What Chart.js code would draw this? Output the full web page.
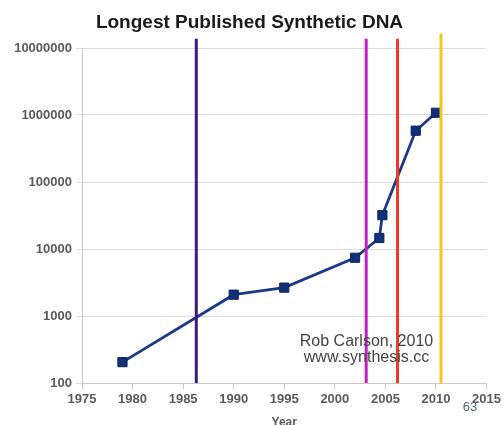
<!DOCTYPE html>
<html>
<head>
<meta charset="utf-8">
<script src="https://cdn.jsdelivr.net/npm/chart.js@4.4.1/dist/chart.umd.min.js"></script>
<style>
html,body{margin:0;padding:0;background:#fff;}
canvas{display:block;}
</style>
</head>
<body>
<canvas id="c" width="504" height="425"></canvas>
<script>
// ---- data ----
const years = [1979, 1990, 1995, 2002, 2004.4, 2004.7, 2008, 2010];
const lengths = [205, 2080, 2650, 7400, 14600, 32000, 582970, 1080000];
const markerYears = [1986.3, 2003.1, 2006.2, 2010.5];
const markerTops = [13800000, 13800000, 13800000, 16300000];
const markerColors = ['#3a1a80', '#c020c0', '#e83a2a', '#f5c520'];
const yTicks = [100, 1000, 10000, 100000, 1000000, 10000000];
const yTickLabels = ['100', '1000', '10000', '100000', '1000000', '10000000'];
const titleText = 'Longest Published Synthetic DNA';
const xTitle = 'Year';
const creditLines = ['Rob Carlson, 2010', 'www.synthesis.cc'];
const pageNumber = '63';

const datasets = [];
markerYears.forEach((yr, i) => {
  datasets.push({
    data: [{x: yr, y: 100}, {x: yr, y: markerTops[i]}],
    borderColor: markerColors[i],
    borderWidth: 3,
    pointRadius: 0,
    clip: false,
    order: 0
  });
});
datasets.push({
  data: years.map((y, i) => ({x: y, y: lengths[i]})),
  borderColor: '#1c3a86',
  borderWidth: 2.8,
  pointStyle: 'rect',
  pointRadius: 6.5,
  pointBackgroundColor: '#10307a',
  pointBorderColor: '#0c2460',
  pointBorderWidth: 1,
  order: 1
});

const textPlugin = {
  id: 'texts',
  afterDraw(chart) {
    const ctx = chart.ctx;
    ctx.save();
    ctx.fillStyle = '#444';
    ctx.font = '16px "Liberation Sans", Arial, sans-serif';
    ctx.textAlign = 'center';
    ctx.textBaseline = 'middle';
    ctx.fillText(creditLines[0], 366.5, 342);
    ctx.fillText(creditLines[1], 366.5, 358);
    ctx.fillStyle = '#55617e';
    ctx.font = '13px "Liberation Sans", Arial, sans-serif';
    ctx.fillText(pageNumber, 470, 407);
    ctx.restore();
  }
};

new Chart(document.getElementById('c'), {
  type: 'line',
  data: {datasets},
  options: {
    responsive: false,
    animation: false,
    layout: {padding: {left: 12, right: 17, top: 0, bottom: 0}},
    plugins: {
      legend: {display: false},
      tooltip: {enabled: false},
      title: {
        display: true,
        text: titleText,
        color: '#1a1a1a',
        font: {family: '"Liberation Sans", Arial, sans-serif', size: 19, weight: 'bold'},
        padding: {top: 11, bottom: 14.2}
      }
    },
    scales: {
      x: {
        type: 'linear',
        min: 1975,
        max: 2015,
        ticks: {
          stepSize: 5,
          padding: 3,
          color: '#5a5a5a',
          font: {family: '"Liberation Sans", Arial, sans-serif', size: 13, weight: 'bold'},
          callback: v => String(v)
        },
        grid: {drawOnChartArea: false, drawTicks: true, tickLength: 6, color: '#c8c8c8'},
        border: {color: '#c8c8c8'},
        title: {
          display: true,
          text: xTitle,
          color: '#5a5a5a',
          font: {family: '"Liberation Sans", Arial, sans-serif', size: 12, weight: 'bold'},
          padding: {top: 0, bottom: -5}
        },
        afterFit: s => { s.height = 42; }
      },
      y: {
        type: 'logarithmic',
        min: 100,
        max: 10000000,
        afterBuildTicks: s => { s.ticks = yTicks.map(v => ({value: v})); },
        ticks: {
          padding: 4,
          color: '#5a5a5a',
          font: {family: '"Liberation Sans", Arial, sans-serif', size: 13, weight: 'bold'},
          callback: (v, i) => yTickLabels[i]
        },
        grid: {color: '#dcdcdc', tickLength: 6},
        border: {color: '#c8c8c8'},
        afterFit: s => { s.width = 70; }
      }
    }
  },
  plugins: [textPlugin]
});
</script>
</body>
</html>
